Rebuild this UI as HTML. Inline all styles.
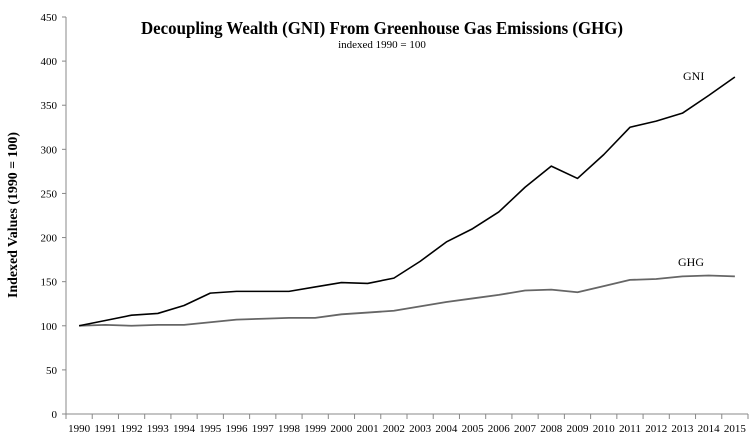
<!DOCTYPE html>
<html><head><meta charset="utf-8"><style>
body{margin:0;background:#fff}
svg{display:block;font-family:"Liberation Serif",serif}
</style></head><body>
<svg id="chart" width="754" height="438">
<text x="382" y="34" text-anchor="middle" font-size="18" font-weight="bold" textLength="482" lengthAdjust="spacingAndGlyphs">Decoupling Wealth (GNI) From Greenhouse Gas Emissions (GHG)</text>
<text x="382" y="48" text-anchor="middle" font-size="11">indexed 1990 = 100</text>
<text transform="translate(17,215) rotate(-90)" text-anchor="middle" font-size="13.5" font-weight="bold" textLength="166" lengthAdjust="spacingAndGlyphs">Indexed Values (1990 = 100)</text>
<g id="axes"></g>
<g id="series"></g>
</svg>
<script>
const years=["1990","1991","1992","1993","1994","1995","1996","1997","1998","1999","2000","2001","2002","2003","2004","2005","2006","2007","2008","2009","2010","2011","2012","2013","2014","2015"];
const gni=[100,106,112,114,123,137,139,139,139,144,149,148,154,173,195,210,229,257,281,267,294,325,332,341,361,382];
const ghg=[100,101,100,101,101,104,107,108,109,109,113,115,117,122,127,131,135,140,141,138,145,152,153,156,157,156];
const yTicks=[0,50,100,150,200,250,300,350,400,450];
const NS="http://www.w3.org/2000/svg";
const x0=66,x1=748,yB=414,yT=17,yMax=450;
const slot=(x1-x0)/years.length;
const xs=i=>x0+slot*(i+0.5);
const ys=v=>yB-(v/yMax)*(yB-yT);
const axes=document.getElementById('axes'),ser=document.getElementById('series');
function mk(t,a,p){const e=document.createElementNS(NS,t);for(const k in a)e.setAttribute(k,a[k]);p.appendChild(e);return e;}
let e=mk('line',{x1:x0,y1:yT,x2:x0,y2:yB,stroke:'#888','stroke-width':1},axes);


e=mk('line',{x1:x0,y1:yB,x2:x1,y2:yB,stroke:'#888','stroke-width':1},axes);


yTicks.forEach(v=>{
  mk('line',{x1:x0-4,y1:ys(v),x2:x0,y2:ys(v),stroke:'#888'},axes);
  const t=mk('text',{x:x0-9,y:ys(v)+4,'text-anchor':'end','font-size':11},axes);
  t.textContent=v;
  
  
});
for(let i=0;i<=years.length;i++)mk('line',{x1:x0+slot*i,y1:yB,x2:x0+slot*i,y2:yB+5,stroke:'#888'},axes);
years.forEach((y,i)=>{
  const t=mk('text',{x:xs(i),y:yB+18,'text-anchor':'middle','font-size':11,textLength:22,lengthAdjust:'spacingAndGlyphs'},axes);
  t.textContent=y;
  
  
});
function line(d,c,w,name){
  const p=mk('polyline',{points:d.map((v,i)=>xs(i)+','+ys(v)).join(' '),fill:'none',stroke:c,'stroke-width':w,'stroke-linejoin':'round'},ser);
  
  
}
line(ghg,'#666',1.8,'ghg-line');
line(gni,'#000',1.6,'gni-line');
let l=mk('text',{x:683,y:80,'font-size':12},ser);l.textContent='GNI';


l=mk('text',{x:678,y:266,'font-size':12},ser);l.textContent='GHG';


</script>
</body></html>
